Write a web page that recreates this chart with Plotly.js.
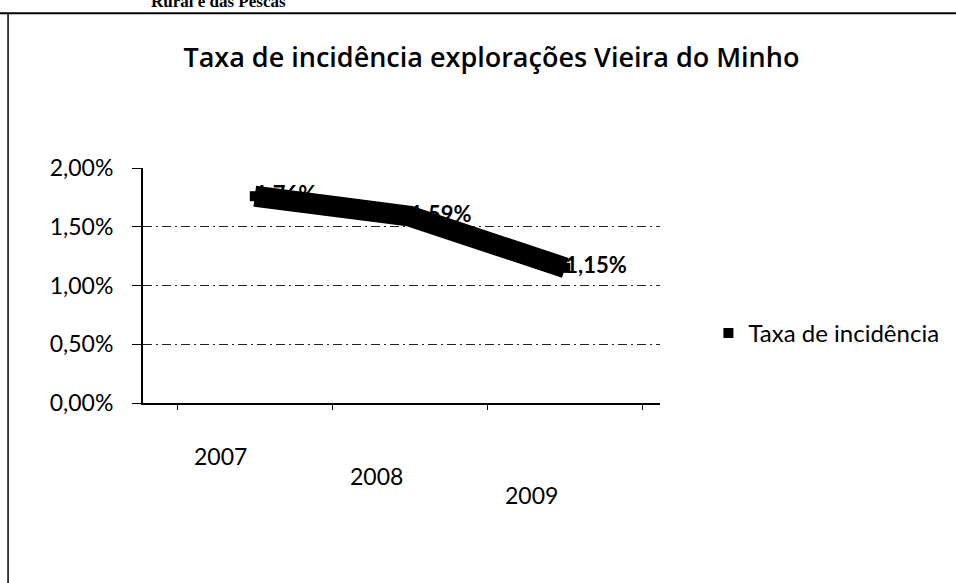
<!DOCTYPE html>
<html>
<head>
<meta charset="utf-8">
<script src="https://cdn.plot.ly/plotly-3.0.1.min.js"></script>
<style>html,body{margin:0;padding:0;background:#fff}#chart{width:956px;height:583px}</style>
</head>
<body>
<div id="chart"></div>
<script>
const years = ['2007', '2008', '2009'];
const taxa = [0.0176, 0.0159, 0.0115];
const labels = ['1,76%', '1,59%', '1,15%'];
const yTicks = [0, 0.005, 0.01, 0.015, 0.02];
const seriesName = 'Taxa de incidência';
const chartTitle = 'Taxa de incidência explorações Vieira do Minho';
const headerText = 'Rural e das Pescas';

const FONT = 'Lato, "Open Sans", sans-serif';

const lineTrace = {
  type: 'scatter',
  mode: 'lines+text',
  x: years,
  y: taxa,
  text: labels,
  textposition: 'middle right',
  textfont: {family: FONT, size: 22, color: '#000', weight: 'bold'},
  line: {color: '#000', width: 21},
  showlegend: false,
  legendgroup: 'taxa',
  hoverinfo: 'skip',
  cliponaxis: false
};

const legendTrace = {
  type: 'scatter',
  mode: 'markers',
  x: years,
  y: taxa,
  name: seriesName,
  legendgroup: 'taxa',
  marker: {symbol: 'square', size: 10, color: '#000'},
  hoverinfo: 'skip',
  cliponaxis: false
};

// category labels placed with a perspective-like offset (style only);
// annotation x uses the category's serial number on the category axis
const yearLabels = years.map((yr, i) => ({
  xref: 'x', yref: 'paper',
  x: years.indexOf(yr), y: 0,
  text: yr,
  showarrow: false,
  xanchor: 'center', yanchor: 'middle',
  xshift: -34,
  yshift: -(53 + 19.5 * i),
  font: {family: FONT, size: 23, color: '#000'}
}));

const layout = {
  width: 956,
  height: 583,
  margin: {l: 143, r: 296, t: 168, b: 180},
  paper_bgcolor: '#fff',
  plot_bgcolor: '#fff',
  separators: ', ',
  showlegend: true,
  title: {
    text: chartTitle,
    x: 0.514, xanchor: 'center', xref: 'container',
    y: 0.902, yanchor: 'middle', yref: 'container',
    font: {family: '"Open Sans", sans-serif', size: 27, color: '#000', weight: 600}
  },
  legend: {
    xref: 'container', yref: 'container',
    x: 0.741, xanchor: 'left',
    y: 0.428, yanchor: 'middle',
    font: {family: FONT, size: 24, color: '#000'},
    bgcolor: 'rgba(0,0,0,0)',
    itemwidth: 30
  },
  xaxis: {
    type: 'category',
    range: [-0.72, 2.61],
    showline: true,
    linecolor: '#000',
    linewidth: 1.5,
    ticks: 'outside',
    tickson: 'boundaries',
    ticklen: 5,
    tickcolor: '#000',
    showgrid: false,
    zeroline: false,
    showticklabels: false,
    title: {text: ''}
  },
  yaxis: {
    range: [0, 0.02],
    tickvals: yTicks,
    tickformat: '.2%',
    showline: true,
    linecolor: '#000',
    linewidth: 2,
    ticks: 'outside',
    ticklen: 9,
    tickcolor: '#000',
    ticklabelstandoff: 14,
    showgrid: true,
    gridcolor: '#222',
    gridwidth: 1,
    griddash: '9px,4px,2px,4px',
    zeroline: false,
    tickfont: {family: FONT, size: 23, color: '#000'},
    title: {text: ''}
  },
  annotations: yearLabels.concat([{
    xref: 'paper', yref: 'paper',
    x: 0.012, y: 1.661, xanchor: 'left', yanchor: 'bottom',
    text: '<b>' + headerText + '</b>',
    showarrow: false,
    font: {family: '"Liberation Serif", serif', size: 17, color: '#000'}
  }]),
  shapes: [
    {type: 'line', xref: 'paper', yref: 'paper', x0: -0.3, x1: 1.6, y0: 1.659, y1: 1.659, line: {color: '#000', width: 2}},
    {type: 'line', xref: 'paper', yref: 'paper', x0: -0.261, x1: -0.261, y0: -0.8, y1: 1.659, line: {color: '#000', width: 1.5}}
  ]
};

Plotly.newPlot('chart', [lineTrace, legendTrace], layout, {displayModeBar: false, staticPlot: true});
</script>
</body>
</html>
